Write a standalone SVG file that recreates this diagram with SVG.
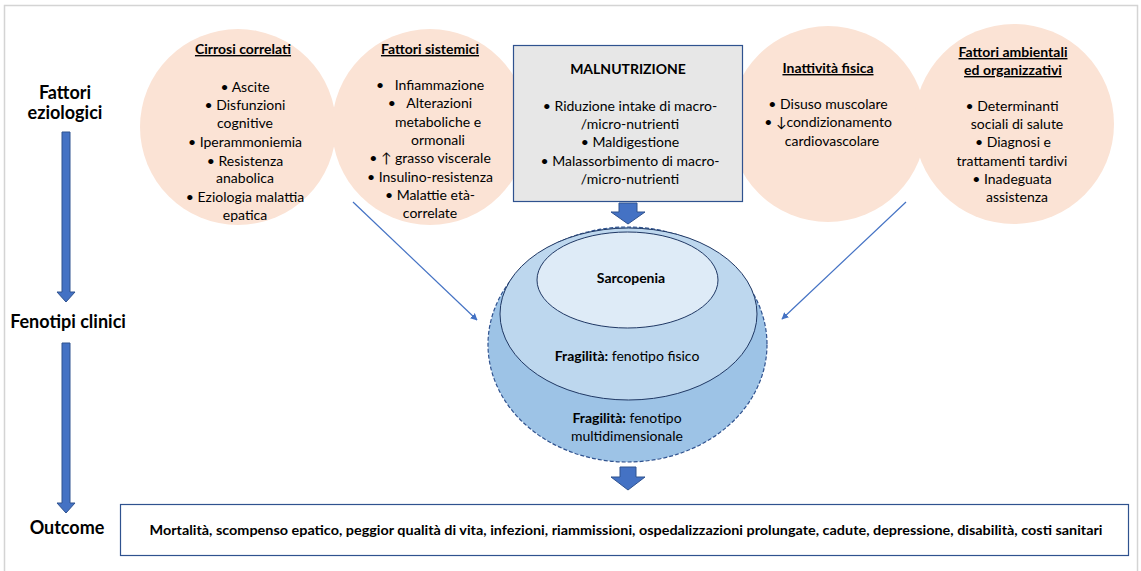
<svg xmlns="http://www.w3.org/2000/svg" width="1141" height="571" viewBox="0 0 1141 571">
<style>
.t{font-family:Lato,"Liberation Sans",sans-serif;font-size:14px;fill:#000;text-anchor:middle;white-space:pre}
.b{font-weight:bold}
.u{text-decoration:underline}
.lab{font-family:Lato,"Liberation Sans",sans-serif;font-size:18px;font-weight:bold;fill:#000;text-anchor:middle}
.circ{fill:#fbe3d5;stroke:none}
.blk{fill:#4472c4;stroke:#2f528f;stroke-width:1}
.thin{stroke:#4472c4;stroke-width:1.2;fill:none}
</style>
<defs>
<marker id="ah" viewBox="0 0 10 10" refX="9" refY="5" markerWidth="7" markerHeight="7" orient="auto" markerUnits="userSpaceOnUse">
<path d="M0,0 L10,5 L0,10 z" fill="#4472c4"/>
</marker>
</defs>
<rect x="0" y="0" width="1141" height="571" fill="#ffffff"/>
<rect x="4.5" y="5.5" width="1133" height="580" fill="none" stroke="#d4d4d4" stroke-width="1.5"/>

<g id="axis">
<text class="lab" x="65" y="99">Fattori</text>
<text class="lab" x="65" y="119">eziologici</text>
<path class="blk" d="M62,132 H70 V292 H75 L66,302 L57,292 H62 Z"/>
<text class="lab" x="68" y="328">Fenotipi clinici</text>
<path class="blk" d="M62,343 H70 V503 H75 L66,513 L57,503 H62 Z"/>
<text class="lab" x="67" y="534">Outcome</text>
</g>

<g id="cirrosi">
<circle class="circ" cx="238" cy="127" r="98"/>
<text class="t b u" x="243" y="54">Cirrosi correlati</text>
<text class="t" x="245" y="92">• Ascite</text>
<text class="t" x="245" y="110">• Disfunzioni</text>
<text class="t" x="245" y="128">cognitive</text>
<text class="t" x="245" y="147">• Iperammoniemia</text>
<text class="t" x="245" y="166">• Resistenza</text>
<text class="t" x="245" y="183">anabolica</text>
<text class="t" x="245" y="202">• Eziologia malattia</text>
<text class="t" x="245" y="220">epatica</text>
</g>

<g id="sistemici">
<circle class="circ" cx="430" cy="127" r="98"/>
<text class="t b u" x="430" y="54">Fattori sistemici</text>
<text class="t" x="430" y="90">•   Infiammazione</text>
<text class="t" x="430" y="108">•   Alterazioni</text>
<text class="t" x="438" y="127">metaboliche e</text>
<text class="t" x="438" y="145">ormonali</text>
<text class="t" x="430" y="163">• ↑ grasso viscerale</text>
<text class="t" x="430" y="182">• Insulino-resistenza</text>
<text class="t" x="430" y="200">• Malattie età-</text>
<text class="t" x="430" y="218">correlate</text>
</g>

<g id="inattivita">
<circle class="circ" cx="828" cy="124" r="98"/>
<text class="t b u" x="828" y="73">Inattività fisica</text>
<text class="t" x="828" y="109">• Disuso muscolare</text>
<text class="t" x="828" y="127">• ↓condizionamento</text>
<text class="t" x="832" y="146">cardiovascolare</text>
</g>

<g id="ambientali">
<circle class="circ" cx="1014" cy="124" r="100"/>
<text class="t b u" x="1013" y="57">Fattori ambientali</text>
<text class="t b u" x="1013" y="75">ed organizzativi</text>
<text class="t" x="1012" y="111">• Determinanti</text>
<text class="t" x="1017" y="129">sociali di salute</text>
<text class="t" x="1013" y="147">• Diagnosi e</text>
<text class="t" x="1012" y="166">trattamenti tardivi</text>
<text class="t" x="1012" y="184">• Inadeguata</text>
<text class="t" x="1017" y="202">assistenza</text>
</g>

<g id="malnutrizione">
<rect x="513.5" y="45.5" width="229" height="156" fill="#e7e7e7" stroke="#2f528f" stroke-width="1.2"/>
<text class="t b" x="628" y="74">MALNUTRIZIONE</text>
<text class="t" x="630" y="111">• Riduzione intake di macro-</text>
<text class="t" x="630" y="129">/micro-nutrienti</text>
<text class="t" x="630" y="147">• Maldigestione</text>
<text class="t" x="630" y="166">• Malassorbimento di macro-</text>
<text class="t" x="630" y="184">/micro-nutrienti</text>
</g>

<g id="fragilita-multi">
<ellipse cx="627.5" cy="344.5" rx="139.5" ry="117.5" fill="#9dc3e6" stroke="#2f528f" stroke-width="1.2" stroke-dasharray="4,2"/>
<text class="t" x="627" y="423"><tspan class="b">Fragilità:</tspan> fenotipo</text>
<text class="t" x="627" y="441">multidimensionale</text>
</g>
<g id="fragilita-fisico">
<ellipse cx="628.5" cy="314" rx="128.5" ry="86" fill="#bdd7ee" stroke="#203864" stroke-width="1"/>
<text class="t" x="627" y="361"><tspan class="b">Fragilità:</tspan> fenotipo fisico</text>
</g>
<g id="sarcopenia">
<ellipse cx="627.5" cy="280" rx="90.5" ry="48" fill="#deebf7" stroke="#203864" stroke-width="1"/>
<text class="t b" x="631" y="283">Sarcopenia</text>
</g>

<g id="outcome">
<rect x="120.5" y="504.5" width="1008" height="51" fill="#ffffff" stroke="#2f528f" stroke-width="1.2"/>
<text class="t b" x="626" y="535" textLength="953" lengthAdjust="spacingAndGlyphs">Mortalità, scompenso epatico, peggior qualità di vita, infezioni, riammissioni, ospedalizzazioni prolungate, cadute, depressione, disabilità, costi sanitari</text>
</g>

<g id="connectors">
<path class="blk" d="M619,203 H637 V212 H645 L628,224 L611,212 H619 Z"/>
<path class="blk" d="M620,467 H636 V477 H645 L628,490 L611,477 H620 Z"/>
<line class="thin" x1="353" y1="202" x2="477" y2="320" marker-end="url(#ah)"/>
<line class="thin" x1="906" y1="202" x2="782" y2="319" marker-end="url(#ah)"/>
</g>
</svg>
